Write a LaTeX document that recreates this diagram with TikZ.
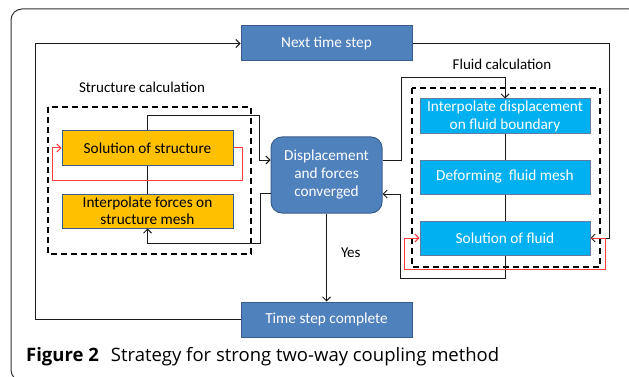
\documentclass[tikz,border=0pt]{standalone}
\usepackage{fontspec}
\setmainfont{Carlito}
\newfontfamily\capfont{Open Sans}
\usetikzlibrary{arrows.meta,calc}
\definecolor{boxblue}{HTML}{4F81BD}
\definecolor{boxborder}{HTML}{385D8A}
\definecolor{boxyellow}{HTML}{FFC000}
\definecolor{boxcyan}{HTML}{00B0F0}
\definecolor{framegray}{HTML}{333333}
\definecolor{linegray}{HTML}{1A1A1A}
\definecolor{loopred}{HTML}{FF3B3B}
\tikzset{
  bluebox/.style={draw=boxborder, line width=1pt, fill=boxblue, text=white, minimum width=171pt, minimum height=35pt, inner sep=0pt, align=center, font=\fontsize{15.3}{18}\selectfont},
  roundbox/.style={bluebox, rounded corners=11pt, minimum width=111pt, minimum height=76pt},
  yelbox/.style={draw=boxborder, line width=1pt, fill=boxyellow, text=black, minimum width=171pt, minimum height=34pt, inner sep=0pt, align=center, font=\fontsize{15.3}{17}\selectfont},
  cyanbox/.style={draw=boxborder!80, line width=1pt, fill=boxcyan, text=white, minimum width=170pt, minimum height=35pt, inner sep=0pt, align=center, font=\fontsize{15.3}{18}\selectfont},
  dashbox/.style={draw=black, line width=1.8pt, dash pattern=on 6pt off 4pt},
  conn/.style={draw=linegray, line width=1pt},
  arr/.style={conn, -{Straight Barb[length=4pt,width=8pt]}},
  redarr/.style={draw=loopred, line width=1pt, -{Straight Barb[length=4pt,width=8pt]}},
  lbl/.style={font=\fontsize{15}{18}\selectfont, text=black, inner sep=0pt},
}
\begin{document}
\begin{tikzpicture}[x=1pt,y=-1pt]
\useasboundingbox (0,0) rectangle (629,377);
\begin{scope}
\clip (0,0) rectangle (629,377);
\draw[framegray, line width=1pt, rounded corners=11pt] (11,9) rectangle (640,381);
\end{scope}

% dashed group boxes
\draw[dashbox] (48,107) rectangle (251,254);
\draw[dashbox] (412,88) rectangle (600,267);

% nodes
\node[bluebox] (next) at (326.5,43.5) {Next time step};
\node[bluebox] (tsc) at (326.5,319.5) {Time step complete};
\node[roundbox] (disp) at (326.5,175) {Displacement\\and forces\\converged};
\node[yelbox] (sos) at (147.5,148) {Solution of structure};
\node[yelbox] (ifs) at (147.5,211) {Interpolate forces on\\structure mesh};
\node[cyanbox] (idf) at (505,116.5) {Interpolate displacement\\on fluid boundary};
\node[cyanbox, minimum height=34pt] (dfm) at (505,177) {Deforming\ \ fluid mesh};
\node[cyanbox, minimum height=34pt] (sof) at (505,238) {Solution of fluid};

% labels
\node[lbl] (slab) at (142,87) {Structure calculation};
\node[lbl] (flab) at (502,64) {Fluid calculation};

% connectors
\draw[arr] (tsc.west) -- (35,319.5) |- (next.west);
\draw[arr] (next.east) -- (609,43.5) |- (sof.east);
\draw[arr] ([yshift=15pt]disp.east) -| (401,78) -| (idf.north);
\draw[conn] (idf) -- (dfm);
\draw[conn] (dfm) -- (sof);
\draw[arr] (sof.south) -- (505,278) -| (400,194) -- ([yshift=-19pt]disp.east);
\draw[redarr] (sof.east) -- (605,238) |- (404,269) |- (sof.west);

\draw[arr] (sos.north) |- (259,116) -- (259,160) -- ([yshift=15pt]disp.west);
\draw[conn] (sos) -- (ifs);
\draw[arr] ([yshift=-18pt]disp.west) -- (260,193) -- (260,243) -| (ifs.south);
\draw[redarr] (sos.east) -- (242,148) |- (52,180) |- (sos.west);

\draw[arr] (disp.south) -- node[lbl, right=14pt, pos=0.45] (yes) {Yes} (tsc.north);

% caption
\node[anchor=west, inner sep=0pt, font=\capfont\fontsize{18.5}{21}\selectfont] (cap) at (26,357) {{\bfseries Figure 2}\hspace{12pt}Strategy for strong two-way coupling method};
\end{tikzpicture}
\end{document}
